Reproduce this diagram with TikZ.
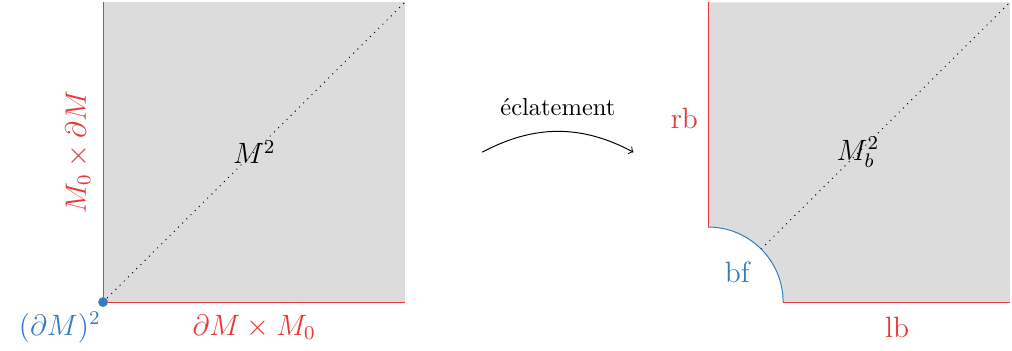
\documentclass[tikz,border=0pt]{standalone}
\usepackage{amsmath}
\usetikzlibrary{arrows}
\definecolor{bordred}{RGB}{232,56,56}
\definecolor{faceblue}{RGB}{52,124,190}
\definecolor{fillgray}{RGB}{220,220,220}

\begin{document}
\begin{tikzpicture}[x=1cm,y=1cm]
          \useasboundingbox (-1.478,-0.689) rectangle (13.04,4.333);
          %% left: M^2
          \fill[fillgray] (0,0) rectangle (4.33,4.30);
          \draw[dotted] (0,0) -- (4.33,4.30);
          \draw[bordred] (0,4.30) -- (0,0) -- (4.33,0);
          \fill[faceblue] (0,0) circle (0.07);
          \node (msq)   at (2.17,2.15)  {\large{$M^2$}};
          \node[rotate=90,text=bordred] (lface) at (-0.36,2.15) {\large{$M_0 \times \partial M$}};
          \node[text=bordred] (bface)  at (2.17,-0.36) {\large{$\partial M \times M_0$}};
          \node[text=faceblue] (corner) at (-0.62,-0.36) {\large{$(\partial M)^2$}};
          %% blow-up arrow
          \coordinate (from) at (5.44,2.15);
          \coordinate (to)   at (7.61,2.15);
          \draw[->] (from) to[bend left=28] node[above=3pt] (blow) {\'eclatement} (to);
          %% right: M_b^2
          \fill[fillgray] (8.68,1.076) arc (90:0:1.076) -- (13.01,0) -- (13.01,4.30) -- (8.68,4.30) -- cycle;
          \draw[dotted] (9.441,0.761) -- (13.01,4.30);
          \draw[bordred] (8.68,4.30) -- (8.68,1.076);
          \draw[faceblue] (8.68,1.076) arc (90:0:1.076);
          \draw[bordred] (9.756,0) -- (13.01,0);
          \node (mbsq)  at (10.83,2.15)  {\large{$M_b^2$}};
          \node[text=bordred]  (rb) at (8.34,2.63)  {\large{rb}};
          \node[text=bordred]  (lb) at (11.39,-0.36) {\large{lb}};
          \node[text=faceblue] (bf) at (9.10,0.42)  {\large{bf}};
        \end{tikzpicture}
\end{document}
